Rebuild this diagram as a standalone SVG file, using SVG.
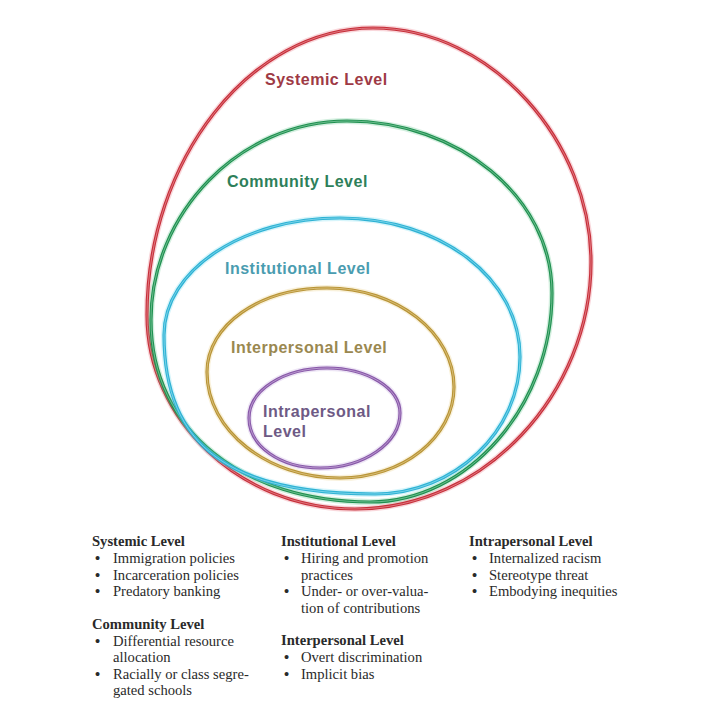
<svg xmlns="http://www.w3.org/2000/svg" width="720" height="720" viewBox="0 0 720 720">
<style>
.halo{fill:none;stroke-width:6;opacity:0.25}
.ring{fill:none;stroke-width:3.2}
.core{fill:none;stroke-width:0.8;opacity:0.7}
.lbl{font-family:"Liberation Sans",Arial,sans-serif;font-weight:bold;font-size:16px;letter-spacing:0.5px}
.t{font-family:"Liberation Serif","Times New Roman",serif;font-size:14.6px;fill:#2a2a2a}
.h{font-weight:bold}
.b{font-weight:bold}
</style>
<defs>
<path id="pRed" d="M373,28 C493,28 591,143 591,262 C591,393 485,509 355,509 C240,509 147,420 147,315 C147,160 250,28 373,28 Z"/>
<path id="pGreen" d="M347,121 C458,121 552,197 552,293 C552,406 468,502 370,502 C245,502 151,432 151,320 C151,213 240,121 347,121 Z"/>
<path id="pCyan" d="M340,218 C440,218 520,278 520,357 C520,431 455,494 375,494 C232,494 164,448 164,335 C164,270 243,218 340,218 Z"/>
<path id="pGold" d="M327,288 C397,288 454,333 454,387 C454,437 403,478 340,478 C268,478 207,431 207,372 C207,325 260,288 327,288 Z"/>
<path id="pPurple" d="M327,368 C367,368 400,388 400,413 C400,443 364,468 320,468 C280,468 249,446 249,418 C249,390 284,368 327,368 Z"/>
</defs>
<rect width="720" height="720" fill="#fff"/>
<g id="systemic">
<use href="#pRed" class="halo" stroke="#e86070"/>
<use href="#pRed" class="ring" stroke="#c62f3a"/>
<use href="#pRed" class="core" stroke="#f4b0b6"/>
<text class="lbl" x="265" y="85" fill="#9e3a45">Systemic Level</text>
</g>
<g id="community">
<use href="#pGreen" class="halo" stroke="#50c080"/>
<use href="#pGreen" class="ring" stroke="#1f9050"/>
<use href="#pGreen" class="core" stroke="#a8e0c0"/>
<text class="lbl" x="227" y="187" fill="#2e7f5a">Community Level</text>
</g>
<g id="institutional">
<use href="#pCyan" class="halo" stroke="#60d8f0"/>
<use href="#pCyan" class="ring" stroke="#2eb2d4"/>
<use href="#pCyan" class="core" stroke="#b0ecf8"/>
<text class="lbl" x="225" y="274" fill="#4a9cb0">Institutional Level</text>
</g>
<g id="interpersonal">
<use href="#pGold" class="halo" stroke="#e8c870"/>
<use href="#pGold" class="ring" stroke="#b89436"/>
<use href="#pGold" class="core" stroke="#f0dca8"/>
<text class="lbl" x="231" y="353" fill="#9a8850">Interpersonal Level</text>
</g>
<g id="intrapersonal">
<use href="#pPurple" class="halo" stroke="#b898d8"/>
<use href="#pPurple" class="ring" stroke="#8858a8"/>
<use href="#pPurple" class="core" stroke="#dccaec"/>
<text class="lbl" x="263" y="417" fill="#6e5a85">Intrapersonal</text>
<text class="lbl" x="263" y="437" fill="#6e5a85">Level</text>
</g>
<g id="connectors"></g>
<g id="legend-col1">
<text class="t h" x="92" y="546">Systemic Level</text>
<text class="t b" x="95" y="563">•</text><text class="t" x="113" y="563">Immigration policies</text>
<text class="t b" x="95" y="580">•</text><text class="t" x="113" y="580">Incarceration policies</text>
<text class="t b" x="95" y="596">•</text><text class="t" x="113" y="596">Predatory banking</text>
<text class="t h" x="92" y="629">Community Level</text>
<text class="t b" x="95" y="646">•</text><text class="t" x="113" y="646">Differential resource</text>
<text class="t" x="113" y="662">allocation</text>
<text class="t b" x="95" y="679">•</text><text class="t" x="113" y="679">Racially or class segre-</text>
<text class="t" x="113" y="695">gated schools</text>
</g>
<g id="legend-col2">
<text class="t h" x="281" y="546">Institutional Level</text>
<text class="t b" x="284" y="563">•</text><text class="t" x="301" y="563">Hiring and promotion</text>
<text class="t" x="301" y="580">practices</text>
<text class="t b" x="284" y="596">•</text><text class="t" x="301" y="596">Under- or over-valua-</text>
<text class="t" x="301" y="613">tion of contributions</text>
<text class="t h" x="281" y="645">Interpersonal Level</text>
<text class="t b" x="284" y="662">•</text><text class="t" x="301" y="662">Overt discrimination</text>
<text class="t b" x="284" y="679">•</text><text class="t" x="301" y="679">Implicit bias</text>
</g>
<g id="legend-col3">
<text class="t h" x="469" y="546">Intrapersonal Level</text>
<text class="t b" x="472" y="563">•</text><text class="t" x="489" y="563">Internalized racism</text>
<text class="t b" x="472" y="580">•</text><text class="t" x="489" y="580">Stereotype threat</text>
<text class="t b" x="472" y="596">•</text><text class="t" x="489" y="596">Embodying inequities</text>
</g>
</svg>
